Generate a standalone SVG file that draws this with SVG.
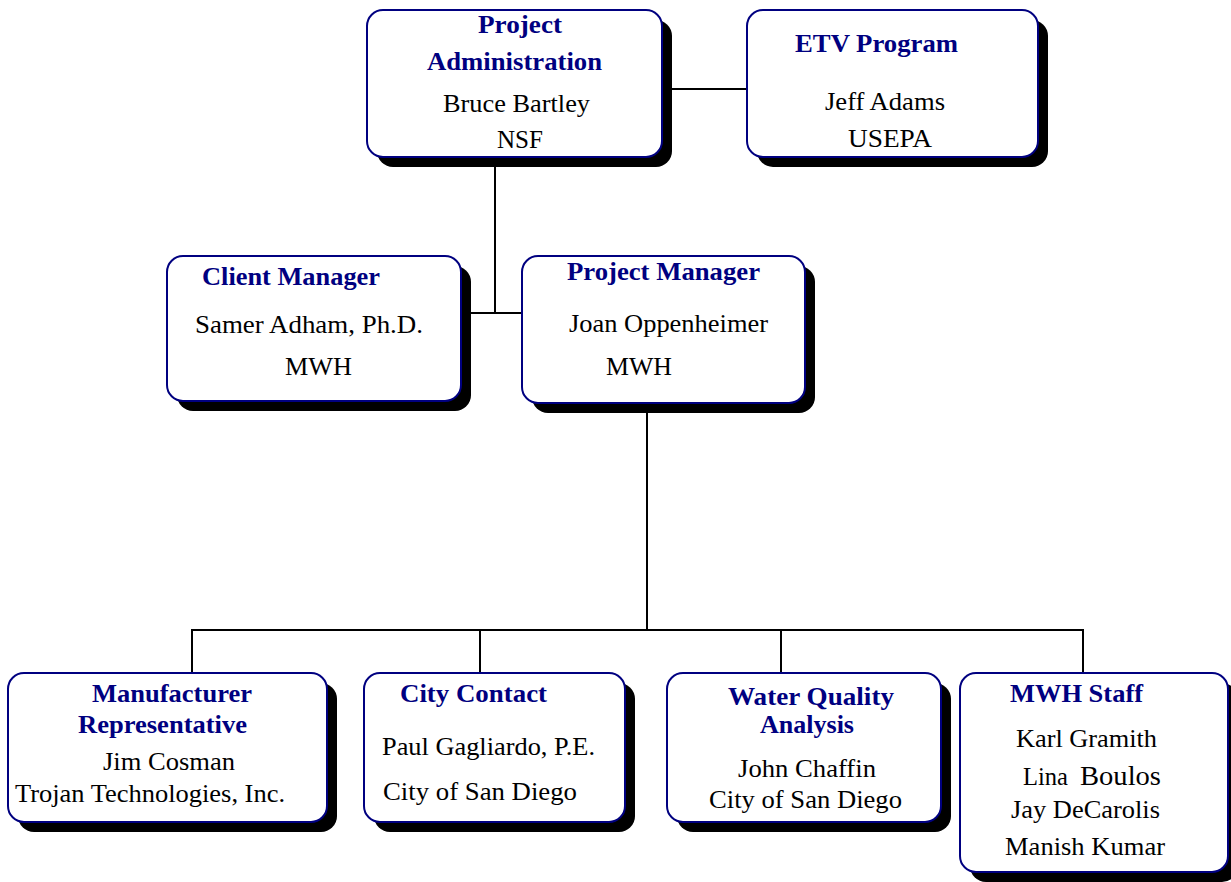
<svg xmlns="http://www.w3.org/2000/svg" width="1231" height="882" viewBox="0 0 1231 882">
<style>
.box{fill:#fff;stroke:#000080;stroke-width:2}
.sh{fill:#000}
.t{font-family:"Liberation Serif","Times New Roman",serif;font-weight:bold;fill:#000080;font-size:25px}
.b{font-family:"Liberation Serif","Times New Roman",serif;fill:#000;font-size:25px}
.c{stroke:#000;stroke-width:2;fill:none}
</style>
<rect width="1231" height="882" fill="#fff"/>
<g id="connectors">
<line class="c" x1="662" y1="89" x2="747" y2="89"/>
<line class="c" x1="495" y1="160" x2="495" y2="314"/>
<line class="c" x1="465" y1="313" x2="522" y2="313"/>
<line class="c" x1="647" y1="405" x2="647" y2="631"/>
<polyline class="c" points="192,673 192,630 1083,630 1083,673"/>
<line class="c" x1="480" y1="630" x2="480" y2="673"/>
<line class="c" x1="781" y1="630" x2="781" y2="673"/>
</g>
<g id="project-administration">
<rect class="sh" x="377" y="20" width="295" height="147" rx="16"/>
<rect class="box" x="367" y="10" width="295" height="147" rx="16"/>
<text class="t" x="478" y="33" textLength="84" lengthAdjust="spacingAndGlyphs">Project</text>
<text class="t" x="427" y="70" textLength="175" lengthAdjust="spacingAndGlyphs">Administration</text>
<text class="b" x="443" y="112" textLength="147" lengthAdjust="spacingAndGlyphs">Bruce Bartley</text>
<text class="b" x="497" y="148" textLength="46" lengthAdjust="spacingAndGlyphs">NSF</text>
</g>
<g id="etv-program">
<rect class="sh" x="757" y="20" width="291" height="147" rx="16"/>
<rect class="box" x="747" y="10" width="291" height="147" rx="16"/>
<text class="t" x="795" y="52" textLength="163" lengthAdjust="spacingAndGlyphs">ETV Program</text>
<text class="b" x="825" y="110" textLength="120" lengthAdjust="spacingAndGlyphs">Jeff Adams</text>
<text class="b" x="848" y="147" textLength="84" lengthAdjust="spacingAndGlyphs">USEPA</text>
</g>
<g id="client-manager">
<rect class="sh" x="177" y="266" width="294" height="145" rx="16"/>
<rect class="box" x="167" y="256" width="294" height="145" rx="16"/>
<text class="t" x="202" y="285" textLength="178" lengthAdjust="spacingAndGlyphs">Client Manager</text>
<text class="b" x="195" y="333" textLength="228" lengthAdjust="spacingAndGlyphs">Samer Adham, Ph.D.</text>
<text class="b" x="285" y="375" textLength="67" lengthAdjust="spacingAndGlyphs">MWH</text>
</g>
<g id="project-manager">
<rect class="sh" x="532" y="266" width="283" height="147" rx="16"/>
<rect class="box" x="522" y="256" width="283" height="147" rx="16"/>
<text class="t" x="567" y="280" textLength="193" lengthAdjust="spacingAndGlyphs">Project Manager</text>
<text class="b" x="569" y="332" textLength="199" lengthAdjust="spacingAndGlyphs">Joan Oppenheimer</text>
<text class="b" x="606" y="375" textLength="66" lengthAdjust="spacingAndGlyphs">MWH</text>
</g>
<g id="manufacturer-representative">
<rect class="sh" x="18" y="683" width="319" height="149" rx="16"/>
<rect class="box" x="8" y="673" width="319" height="149" rx="16"/>
<text class="t" x="92" y="702" textLength="160" lengthAdjust="spacingAndGlyphs">Manufacturer</text>
<text class="t" x="78" y="733" textLength="169" lengthAdjust="spacingAndGlyphs">Representative</text>
<text class="b" x="103" y="770" textLength="132" lengthAdjust="spacingAndGlyphs">Jim Cosman</text>
<text class="b" x="15" y="802" textLength="270" lengthAdjust="spacingAndGlyphs">Trojan Technologies, Inc.</text>
</g>
<g id="city-contact">
<rect class="sh" x="374" y="683" width="261" height="149" rx="16"/>
<rect class="box" x="364" y="673" width="261" height="149" rx="16"/>
<text class="t" x="400" y="702" textLength="147" lengthAdjust="spacingAndGlyphs">City Contact</text>
<text class="b" x="382" y="755" textLength="213" lengthAdjust="spacingAndGlyphs">Paul Gagliardo, P.E.</text>
<text class="b" x="383" y="800" textLength="194" lengthAdjust="spacingAndGlyphs">City of San Diego</text>
</g>
<g id="water-quality-analysis">
<rect class="sh" x="677" y="683" width="274" height="149" rx="16"/>
<rect class="box" x="667" y="673" width="274" height="149" rx="16"/>
<text class="t" x="728" y="705" textLength="166" lengthAdjust="spacingAndGlyphs">Water Quality</text>
<text class="t" x="760" y="733" textLength="94" lengthAdjust="spacingAndGlyphs">Analysis</text>
<text class="b" x="738" y="777" textLength="138" lengthAdjust="spacingAndGlyphs">John Chaffin</text>
<text class="b" x="709" y="808" textLength="193" lengthAdjust="spacingAndGlyphs">City of San Diego</text>
</g>
<g id="mwh-staff">
<rect class="sh" x="970" y="683" width="268" height="199" rx="16"/>
<rect class="box" x="960" y="673" width="268" height="199" rx="16"/>
<text class="t" x="1010" y="702" textLength="133" lengthAdjust="spacingAndGlyphs">MWH Staff</text>
<text class="b" x="1016" y="747" textLength="141" lengthAdjust="spacingAndGlyphs">Karl Gramith</text>
<text class="b" x="1023" y="785" textLength="45" lengthAdjust="spacingAndGlyphs">Lina</text>
<text class="b" x="1080" y="785" style="font-size:28px" textLength="81" lengthAdjust="spacingAndGlyphs">Boulos</text>
<text class="b" x="1011" y="818" textLength="149" lengthAdjust="spacingAndGlyphs">Jay DeCarolis</text>
<text class="b" x="1005" y="855" textLength="160" lengthAdjust="spacingAndGlyphs">Manish Kumar</text>
</g>
</svg>
